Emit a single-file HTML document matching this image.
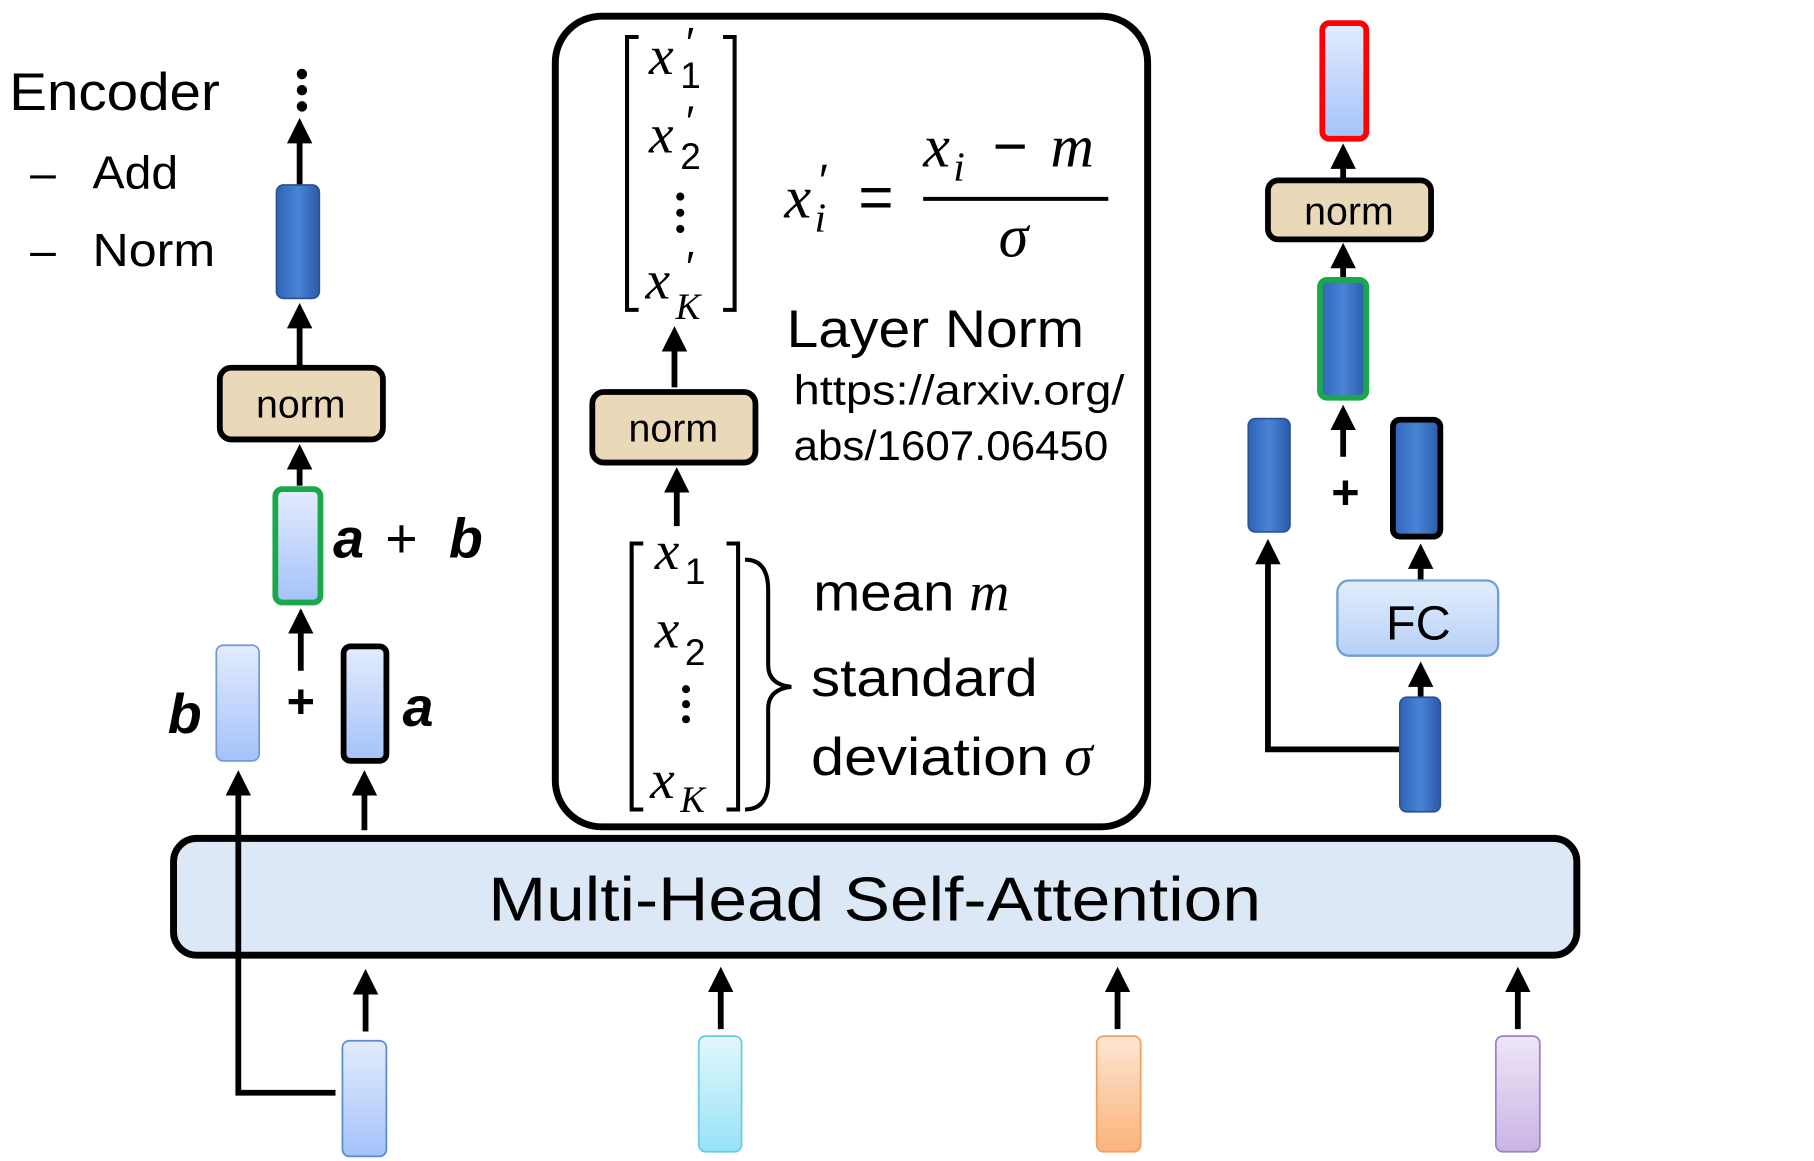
<!DOCTYPE html>
<html><head><meta charset="utf-8"><style>
html,body{margin:0;padding:0;background:#fff;}
svg{display:block;}
text{font-family:"Liberation Sans",sans-serif;}
.m{font-family:"Liberation Serif",serif;font-style:italic;}
</style></head><body>
<svg width="1814" height="1161" viewBox="0 0 1568 1004" preserveAspectRatio="none" xmlns="http://www.w3.org/2000/svg">
<defs>
<linearGradient id="lb" x1="0" y1="0" x2="0" y2="1"><stop offset="0" stop-color="#e3ecfd"/><stop offset="1" stop-color="#a4c2fb"/></linearGradient>
<linearGradient id="db" x1="0" y1="0" x2="1" y2="0"><stop offset="0" stop-color="#2f64b8"/><stop offset="0.5" stop-color="#4a84d6"/><stop offset="1" stop-color="#2b5aa8"/></linearGradient>
<linearGradient id="cy" x1="0" y1="0" x2="0" y2="1"><stop offset="0" stop-color="#e2f8fd"/><stop offset="1" stop-color="#98e2f6"/></linearGradient>
<linearGradient id="or" x1="0" y1="0" x2="0" y2="1"><stop offset="0" stop-color="#fde6d3"/><stop offset="1" stop-color="#fbb37a"/></linearGradient>
<linearGradient id="pu" x1="0" y1="0" x2="0" y2="1"><stop offset="0" stop-color="#eee6f6"/><stop offset="1" stop-color="#c9b4e6"/></linearGradient>
<linearGradient id="fc" x1="0" y1="0" x2="0" y2="1"><stop offset="0" stop-color="#e3eefd"/><stop offset="1" stop-color="#b6d0f7"/></linearGradient>
<marker id="ar" markerWidth="4.4" markerHeight="4.4" refX="2.4" refY="2.2" orient="auto" markerUnits="strokeWidth"><path d="M0,0 L4.4,2.2 L0,4.4 z" fill="#000"/></marker>
</defs>

<text x="8" y="95" font-size="46" textLength="182" lengthAdjust="spacingAndGlyphs">Encoder</text>
<text x="26" y="163" font-size="40">–</text><text x="80" y="163" font-size="40" textLength="74" lengthAdjust="spacingAndGlyphs">Add</text>
<text x="26" y="230" font-size="40">–</text><text x="80" y="230" font-size="40" textLength="106" lengthAdjust="spacingAndGlyphs">Norm</text>

<circle cx="261" cy="64" r="4.5"/><circle cx="261" cy="78" r="4.5"/><circle cx="261" cy="92" r="4.5"/>
<g stroke="#000" stroke-width="5" fill="none" marker-end="url(#ar)">
<line x1="259" y1="160" x2="259" y2="112"/>
<line x1="259" y1="318" x2="259" y2="272"/>
<line x1="259" y1="420" x2="259" y2="394"/>
<line x1="260" y1="580" x2="260" y2="536"/>
<line x1="315" y1="718" x2="315" y2="676"/>
<polyline points="290,945 206,945 206,676"/>
<line x1="316" y1="892" x2="316" y2="848"/>
<line x1="623" y1="890" x2="623" y2="846"/>
<line x1="966" y1="890" x2="966" y2="846"/>
<line x1="1312" y1="890" x2="1312" y2="846"/>
<line x1="583" y1="335" x2="583" y2="292"/>
<line x1="585" y1="455" x2="585" y2="414"/>
<line x1="1161" y1="155" x2="1161" y2="134"/>
<line x1="1161" y1="242" x2="1161" y2="220"/>
<line x1="1161" y1="395" x2="1161" y2="360"/>
<line x1="1228" y1="502" x2="1228" y2="480"/>
<line x1="1228" y1="603" x2="1228" y2="582"/>
<polyline points="1210,648 1096,648 1096,476"/>
</g>
<rect x="239" y="160" width="37" height="98" rx="6" fill="url(#db)" stroke="#2a5496" stroke-width="1.5"/>
<rect x="190" y="318" width="141" height="62" rx="10" fill="#ead9b8" stroke="#000" stroke-width="5"/>
<text x="260" y="361" font-size="34" text-anchor="middle">norm</text>
<rect x="238" y="423" width="39" height="98" rx="6" fill="url(#lb)" stroke="#1aa84a" stroke-width="5"/>
<text x="288" y="482" font-size="48" font-family="Liberation Serif" font-weight="bold" font-style="italic">a</text>
<text x="333" y="482" font-size="48" font-family="Liberation Serif">+</text>
<text x="388" y="482" font-size="48" font-family="Liberation Serif" font-weight="bold" font-style="italic">b</text>
<text x="260" y="621" font-size="42" font-weight="bold" text-anchor="middle">+</text>
<rect x="187" y="558" width="37" height="100" rx="6" fill="url(#lb)" stroke="#6e9bd8" stroke-width="1.5"/>
<text x="145" y="634" font-size="48" font-family="Liberation Serif" font-weight="bold" font-style="italic">b</text>
<rect x="297" y="559" width="37" height="99" rx="6" fill="url(#lb)" stroke="#000" stroke-width="5"/>
<text x="348" y="628" font-size="48" font-family="Liberation Serif" font-weight="bold" font-style="italic">a</text>

<rect x="150" y="725" width="1213" height="101" rx="20" fill="#dce8f6" stroke="#000" stroke-width="6"/>
<line x1="206" y1="725" x2="206" y2="826" stroke="#000" stroke-width="5"/>
<text x="422" y="796" font-size="54" textLength="668" lengthAdjust="spacingAndGlyphs">Multi-Head Self-Attention</text>

<rect x="296" y="900" width="38" height="100" rx="6" fill="url(#lb)" stroke="#5a8ad0" stroke-width="1.5"/>
<rect x="604" y="896" width="37" height="100" rx="6" fill="url(#cy)" stroke="#6cc8e6" stroke-width="1.5"/>
<rect x="948" y="896" width="38" height="100" rx="6" fill="url(#or)" stroke="#f0a060" stroke-width="1.5"/>
<rect x="1293" y="896" width="38" height="100" rx="6" fill="url(#pu)" stroke="#9c82c6" stroke-width="1.5"/>

<rect x="480" y="14" width="512" height="701" rx="40" fill="none" stroke="#000" stroke-width="6"/>
<path d="M552,32 H542 V268 H552 M625,32 H635 V268 H625" fill="none" stroke="#000" stroke-width="3.5"/>
<text x="561" y="64" font-size="48" class="m">x</text><text x="588" y="76" font-size="32" font-family="Liberation Serif">1</text><text x="593" y="50" font-size="38" font-family="Liberation Serif">′</text>
<text x="561" y="132" font-size="48" class="m">x</text><text x="588" y="146" font-size="32" font-family="Liberation Serif">2</text><text x="593" y="118" font-size="38" font-family="Liberation Serif">′</text>
<text x="558" y="258" font-size="48" class="m">x</text><text x="584" y="276" font-size="32" class="m">K</text><text x="593" y="244" font-size="38" font-family="Liberation Serif">′</text>
<circle cx="588" cy="170" r="3.5"/><circle cx="588" cy="184" r="3.5"/><circle cx="588" cy="198" r="3.5"/>
<rect x="512" y="339" width="141" height="61" rx="10" fill="#ead9b8" stroke="#000" stroke-width="5"/>
<text x="582" y="382" font-size="34" text-anchor="middle">norm</text>
<path d="M556,470 H546 V700 H556 M628,470 H638 V700 H628" fill="none" stroke="#000" stroke-width="3.5"/>
<text x="566" y="492" font-size="48" class="m">x</text><text x="592" y="505" font-size="32" font-family="Liberation Serif">1</text>
<text x="566" y="560" font-size="48" class="m">x</text><text x="592" y="575" font-size="32" font-family="Liberation Serif">2</text>
<text x="562" y="690" font-size="48" class="m">x</text><text x="588" y="702" font-size="32" class="m">K</text>
<circle cx="593" cy="596" r="3.5"/><circle cx="593" cy="609" r="3.5"/><circle cx="593" cy="622" r="3.5"/>
<path d="M644,484 Q664,484 664,510 V575 Q664,592 684,594 Q664,596 664,613 V675 Q664,700 644,700" fill="none" stroke="#000" stroke-width="3.5"/>
<text x="678" y="188" font-size="52" class="m">x</text><text x="704" y="200" font-size="36" class="m">i</text><text x="708" y="170" font-size="40" font-family="Liberation Serif">′</text>
<text x="742" y="188" font-size="52" font-family="Liberation Serif">=</text>
<text x="798" y="144" font-size="52" class="m">x</text><text x="824" y="156" font-size="36" class="m">i</text>
<text x="858" y="144" font-size="52" font-family="Liberation Serif">−</text><text x="908" y="144" font-size="52" class="m">m</text>
<line x1="798" y1="172" x2="958" y2="172" stroke="#000" stroke-width="3.5"/>
<text x="876" y="222" font-size="52" class="m" text-anchor="middle">σ</text>
<text x="680" y="300" font-size="46" textLength="257" lengthAdjust="spacingAndGlyphs">Layer Norm</text>
<text x="686" y="350" font-size="36" textLength="286" lengthAdjust="spacingAndGlyphs">https://arxiv.org/</text>
<text x="686" y="398" font-size="36" textLength="272" lengthAdjust="spacingAndGlyphs">abs/1607.06450</text>
<text x="703" y="528" font-size="46"><tspan textLength="122" lengthAdjust="spacingAndGlyphs">mean</tspan> <tspan class="m" font-size="48">m</tspan></text>
<text x="701" y="602" font-size="46" textLength="196" lengthAdjust="spacingAndGlyphs">standard</text>
<text x="701" y="670" font-size="46"><tspan textLength="206" lengthAdjust="spacingAndGlyphs">deviation</tspan> <tspan class="m" font-size="50">σ</tspan></text>

<rect x="1143" y="20" width="38" height="100" rx="6" fill="url(#lb)" stroke="#f00" stroke-width="5"/>
<rect x="1096" y="156" width="141" height="51" rx="9" fill="#ead9b8" stroke="#000" stroke-width="5"/>
<text x="1166" y="194" font-size="34" text-anchor="middle">norm</text>
<rect x="1141" y="242" width="40" height="102" rx="6" fill="url(#db)" stroke="#1aa84a" stroke-width="5"/>
<text x="1163" y="440" font-size="42" font-weight="bold" text-anchor="middle">+</text>
<rect x="1079" y="362" width="36" height="98" rx="6" fill="url(#db)" stroke="#2a5496" stroke-width="1.5"/>
<rect x="1204" y="363" width="41" height="101" rx="6" fill="url(#db)" stroke="#000" stroke-width="5"/>
<rect x="1156" y="502" width="139" height="65" rx="10" fill="url(#fc)" stroke="#6f9fd8" stroke-width="2"/>
<text x="1226" y="553" font-size="42" text-anchor="middle">FC</text>
<rect x="1210" y="603" width="35" height="99" rx="6" fill="url(#db)" stroke="#2a5496" stroke-width="1.5"/>
</svg>
</body></html>
